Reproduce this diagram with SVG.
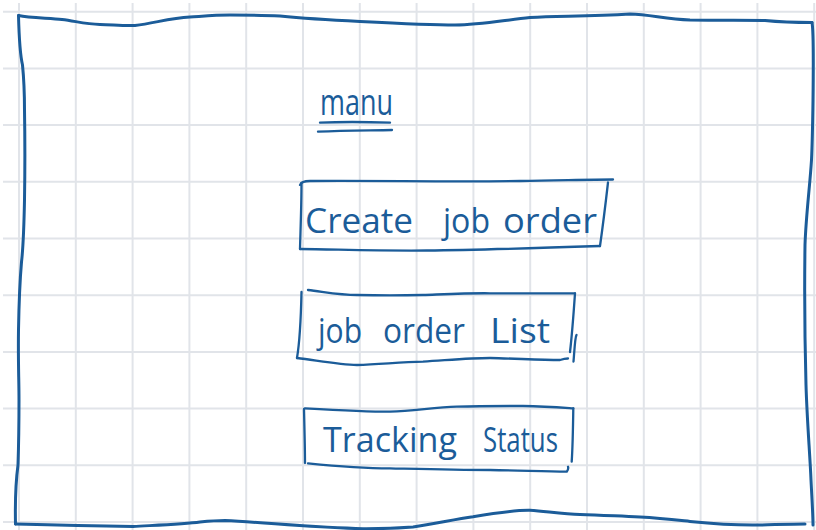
<svg xmlns="http://www.w3.org/2000/svg" width="816" height="530" viewBox="0 0 816 530">
  <defs>
    <style>
      .grid line { stroke: #e1e4e9; stroke-width: 2; }
      .ink { fill: none; stroke: #1b5c99; stroke-linecap: round; stroke-linejoin: round; }
      .frame { stroke-width: 3; }
      .box { stroke-width: 2.3; }
      .hand { font-family: "Open Sans", "Lato", "Liberation Sans", sans-serif; font-weight: 400; fill: #1b5c99; }
    </style>
  </defs>

  <!-- paper -->
  <rect x="0" y="0" width="816" height="530" fill="#ffffff"/>

  <!-- squared paper grid -->
  <g class="grid" id="grid">
    <line x1="19" y1="3" x2="19" y2="530"/>
    <line x1="75.8" y1="3" x2="75.8" y2="530"/>
    <line x1="132.6" y1="3" x2="132.6" y2="530"/>
    <line x1="189.4" y1="3" x2="189.4" y2="530"/>
    <line x1="246.2" y1="3" x2="246.2" y2="530"/>
    <line x1="303" y1="3" x2="303" y2="530"/>
    <line x1="359.8" y1="3" x2="359.8" y2="530"/>
    <line x1="416.6" y1="3" x2="416.6" y2="530"/>
    <line x1="473.4" y1="3" x2="473.4" y2="530"/>
    <line x1="530.2" y1="3" x2="530.2" y2="530"/>
    <line x1="587" y1="3" x2="587" y2="530"/>
    <line x1="643.8" y1="3" x2="643.8" y2="530"/>
    <line x1="700.6" y1="3" x2="700.6" y2="530"/>
    <line x1="757.4" y1="3" x2="757.4" y2="530"/>
    <line x1="814.2" y1="3" x2="814.2" y2="530"/>
    <line x1="3" y1="11.7" x2="816" y2="11.7"/>
    <line x1="3" y1="68.4" x2="816" y2="68.4"/>
    <line x1="3" y1="125.1" x2="816" y2="125.1"/>
    <line x1="3" y1="181.8" x2="816" y2="181.8"/>
    <line x1="3" y1="238.5" x2="816" y2="238.5"/>
    <line x1="3" y1="295.2" x2="816" y2="295.2"/>
    <line x1="3" y1="351.9" x2="816" y2="351.9"/>
    <line x1="3" y1="408.6" x2="816" y2="408.6"/>
    <line x1="3" y1="465.3" x2="816" y2="465.3"/>
    <line x1="3" y1="522" x2="816" y2="522"/>
  </g>

  <!-- outer screen frame -->
  <g id="frame">
    <path class="ink frame" d="M18.5,15.5 C30,18 50,18 62,19.5 C75,21 85,24 100,24.5 C115,25 125,26 135,25.5 C155,23 170,18 190,17 C205,16 215,15 230,15 C250,15 262,15 280,16 C300,18 330,20 360,21.5 C400,23.5 430,25 455,25 C480,25 505,20 530,17.5 C560,16 590,16.5 630,14 C650,14.5 665,19 690,20 C720,20.5 750,20 765,20.5 C780,22 795,22.5 812,22.5"/>
    <path class="ink frame" d="M812,22.5 C813.5,30 813.5,60 813,100 C812.5,135 812,150 811.5,160 C810,185 806,215 805,245 C804.5,280 804.5,330 806,385 C807,420 810,455 811,480 C812,500 813,515 813,525"/>
    <path class="ink frame" d="M18.5,15.5 C19,35 19.5,52 22.5,65 C24,80 24.5,95 24.5,110 C25,140 25,170 24.5,200 C24,225 23.5,245 21.5,262 C19.5,285 19,300 18.5,330 C18,360 19,380 19,400 C19,430 18.5,450 18,465 C16,480 15,500 15.5,524"/>
    <path class="ink frame" d="M15.5,524 C50,525 90,526 133,526.5 C160,525 185,524 200,522 C210,521 218,520.5 225,520.5 C270,523 320,528 363,528.7 C385,528.8 400,528 413,527 C435,524 455,519 473,516.7 C495,513 515,510 530,510.3 C550,512 565,514 580,514.5 C600,515 615,516 640,517 C660,518 672,519.5 690,521.5 C715,524 735,525.5 760,525 C780,524.5 795,524 805,524"/>
  </g>

  <!-- page heading -->
  <g id="title">
    <text class="hand" x="320" y="115" font-size="37" textLength="73" lengthAdjust="spacingAndGlyphs">manu</text>
    <path class="ink box" d="M320,122.7 C345,121.5 370,122 390,122.7"/>
    <path class="ink box" d="M318,131.7 C345,130 370,130.5 392,130"/>
  </g>

  <!-- menu option: Create job order -->
  <g id="create-job-order">
    <path class="ink box" d="M300,185 C301,182 304,181 310,181 C380,180.5 450,182 520,181 C560,180.5 590,179.5 613,179.5"/>
    <path class="ink box" d="M301.5,183 C301.5,205 300.5,230 300,249"/>
    <path class="ink box" d="M300,249 C340,249.5 380,251 427,250.5 C480,250 540,248 600,246"/>
    <path class="ink box" d="M608,182.5 C606,200 603,225 600,246"/>
    <text class="hand" y="233" font-size="34"><tspan x="305" textLength="108" lengthAdjust="spacingAndGlyphs">Create</tspan><tspan x="443" textLength="47" lengthAdjust="spacingAndGlyphs">job</tspan><tspan x="503" textLength="94" lengthAdjust="spacingAndGlyphs">order</tspan></text>
  </g>

  <!-- menu option: job order List -->
  <g id="job-order-list">
    <path class="ink box" d="M308,290 C325,292 340,295 357,295 C380,295.5 400,295.5 423,295 C450,294 470,293 490,293.3 C520,293.5 550,293.3 575,293.3"/>
    <path class="ink box" d="M301.5,292 C301,315 300,340 297,358"/>
    <path class="ink box" d="M297,358 C320,361 340,365 357,365 C380,364.5 400,362 423,361.7 C450,360 470,358 490,358 C515,358.5 540,360 560,360 C563,359 566,358.5 568,358.5"/>
    <path class="ink box" d="M575,293.3 C573.5,315 572,335 570,352"/>
    <path class="ink box" d="M576.5,335 C575,337 574.5,350 573.5,361.5"/>
    <text class="hand" y="343" font-size="34"><tspan x="318" textLength="44" lengthAdjust="spacingAndGlyphs">job</tspan><tspan x="383" textLength="82" lengthAdjust="spacingAndGlyphs">order</tspan><tspan x="490" textLength="60" lengthAdjust="spacingAndGlyphs">List</tspan></text>
  </g>

  <!-- menu option: Tracking Status -->
  <g id="tracking-status">
    <path class="ink box" d="M305,408.3 C335,410 365,411.7 390,411.7 C415,411 435,407 456.7,406.7 C480,406 500,406 523,406 C545,406.5 560,407.5 573.3,408.3"/>
    <path class="ink box" d="M304,409 C304.5,430 305,450 305,463"/>
    <path class="ink box" d="M308,463.3 C335,466 365,468.3 390,468.3 C420,469 455,470 490,470 C520,470.5 545,471.5 566.7,471.7 C568,470 568.5,468 568,466.7"/>
    <path class="ink box" d="M573.3,408.3 C573,430 572.5,450 571.7,461.7"/>
    <text class="hand" y="452" font-size="34"><tspan x="323" textLength="134" lengthAdjust="spacingAndGlyphs">Tracking</tspan><tspan x="483" textLength="75" lengthAdjust="spacingAndGlyphs">Status</tspan></text>
  </g>
</svg>
